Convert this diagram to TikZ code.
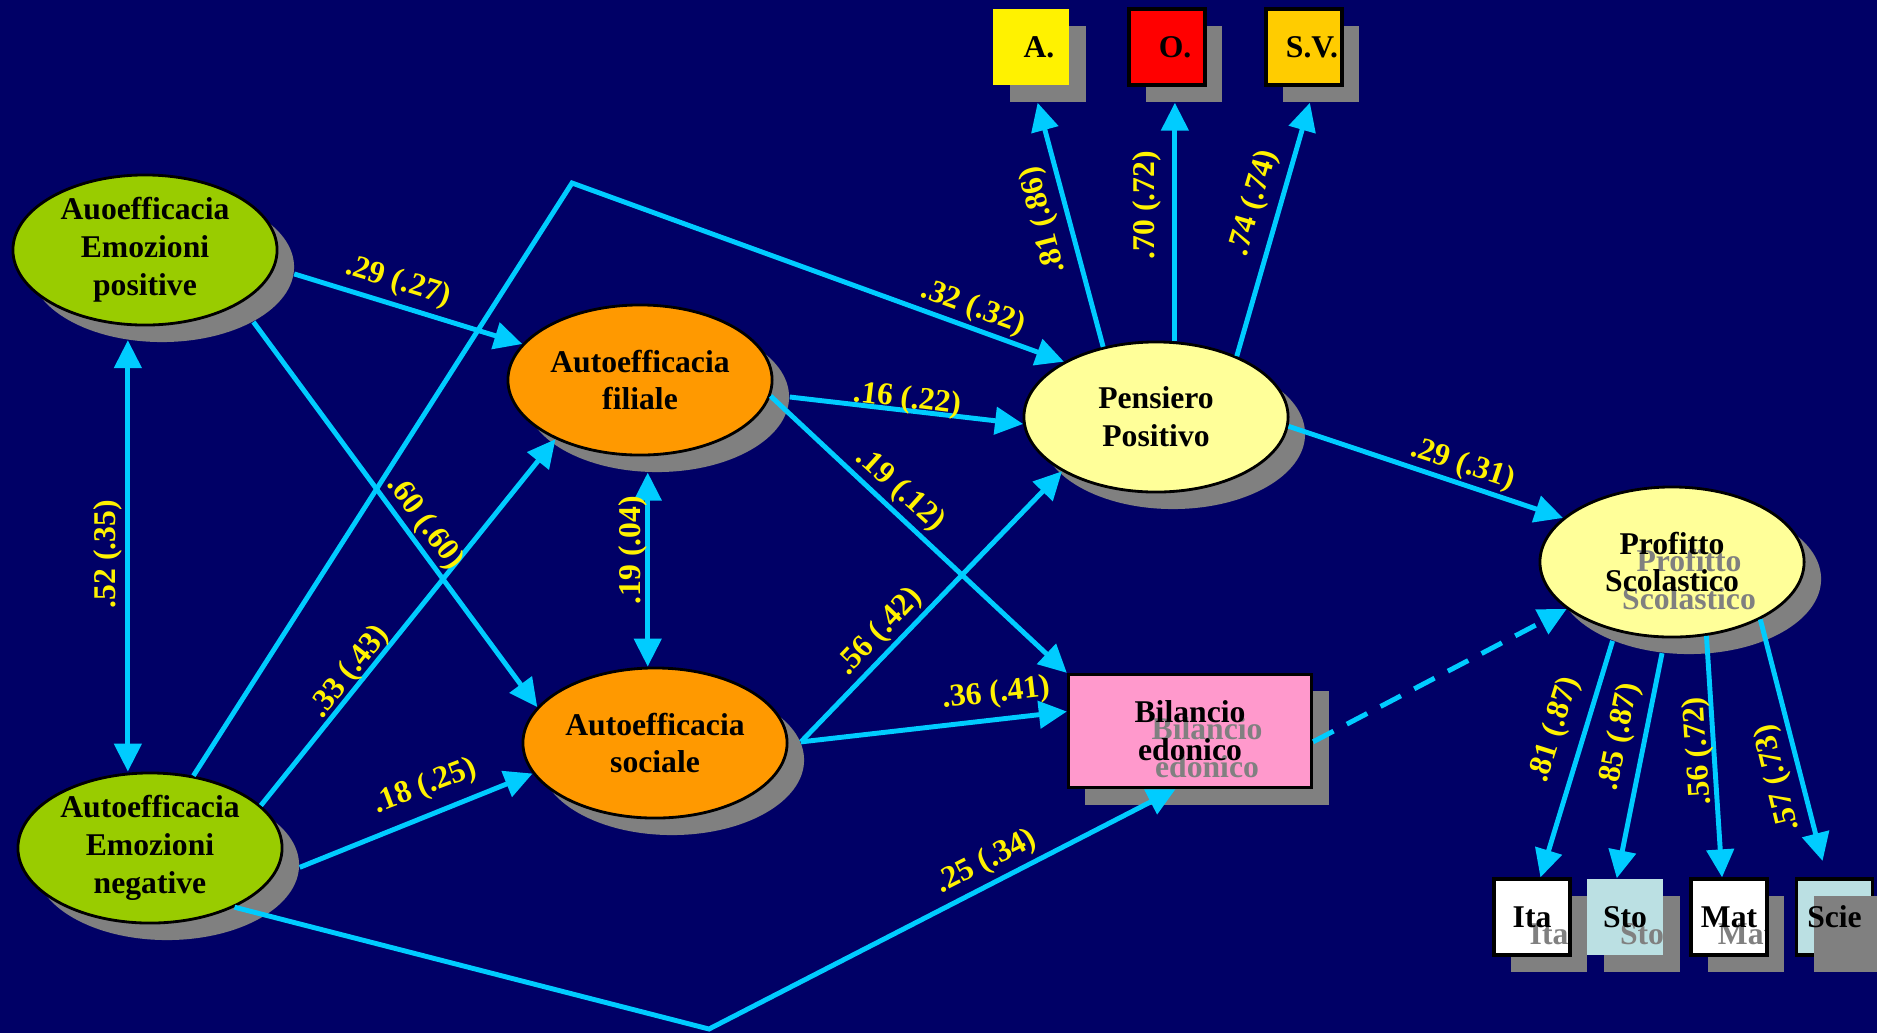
\documentclass[tikz,border=0pt]{standalone}
\usepackage{fontspec}
\setmainfont{Liberation Serif}
\usetikzlibrary{arrows.meta}
\usetikzlibrary{shapes.geometric}
\usetikzlibrary{calc}

\definecolor{navy}{RGB}{0,0,102}
\definecolor{lime}{RGB}{153,204,0}
\definecolor{orangeae}{RGB}{255,153,0}
\definecolor{paleyel}{RGB}{255,255,153}
\definecolor{pinkbe}{RGB}{255,153,204}
\definecolor{goldsv}{RGB}{255,204,0}
\definecolor{paleblue}{RGB}{187,224,227}
\definecolor{shade}{RGB}{128,128,128}
\definecolor{cyanarr}{RGB}{0,204,255}

\newcommand{\semfont}{\fontsize{9}{10.8}\selectfont\bfseries}

\tikzset{
  lat/.style={ellipse, draw=black, line width=0.8pt, minimum width=2.64cm, minimum height=1.5cm, inner sep=0pt, align=center, font=\semfont},
  latsh/.style={ellipse, fill=shade, minimum width=2.64cm, minimum height=1.5cm, inner sep=0pt},
  obs/.style={rectangle, minimum size=0.76cm, inner sep=0pt, font=\semfont},
  obssh/.style={rectangle, fill=shade, minimum size=0.76cm, inner sep=0pt},
  boxed/.style={draw=black, line width=0.9pt},
  ghost/.style={path picture={\node[text=shade, font=\semfont, align=center, inner sep=0pt] at ([shift={(0.17cm,-0.17cm)}]path picture bounding box.center) {#1};}},
  arr/.style={draw=cyanarr, line width=1.4pt, -{Triangle[length=0.28cm,width=0.27cm]}},
  dbl/.style={draw=cyanarr, line width=1.4pt, {Triangle[length=0.28cm,width=0.27cm]}-{Triangle[length=0.28cm,width=0.27cm]}},
  coef/.style={text=yellow, font=\semfont, inner sep=0pt}
}

\begin{document}
\begin{tikzpicture}[x=0.01cm, y=-0.01cm]
\useasboundingbox (0,0) rectangle (1877,1033);
\fill[navy] (0,0) rectangle (1877,1033);

\coordinate (bendtop) at (572,183);
\coordinate (bendbot) at (709,1029);

\node[latsh] (aepsh) at (162,267) {};
\node[latsh] (aensh) at (167,865) {};
\node[latsh] (afsh) at (657,397) {};
\node[latsh] (assh) at (672,760) {};
\node[latsh] (ppsh) at (1173,434) {};
\node[latsh] (pssh) at (1689,579) {};
\node[rectangle, fill=shade, minimum width=2.43cm, minimum height=1.13cm] (besh) at (1207,748) {};
\node[obssh] (ash) at (1048,64) {};
\node[obssh] (osh) at (1184,64) {};
\node[obssh] (svsh) at (1321,64) {};
\node[obssh] (itash) at (1549,934) {};
\node[obssh] (stosh) at (1642,934) {};
\node[obssh] (matsh) at (1746,934) {};

\node[lat, fill=lime] (aep) at (145,250) {Auoefficacia\\Emozioni\\positive};
\node[lat, fill=lime] (aen) at (150,848) {Autoefficacia\\Emozioni\\negative};
\node[lat, fill=orangeae] (af) at (640,380) {Autoefficacia\\filiale};
\node[lat, fill=orangeae] (as) at (655,743) {Autoefficacia\\sociale};
\node[lat, fill=paleyel] (pp) at (1156,417) {Pensiero\\Positivo};
\node[lat, fill=paleyel, ghost={Profitto\\Scolastico}] (ps) at (1672,562) {Profitto\\Scolastico};
\node[rectangle, boxed, fill=pinkbe, minimum width=2.43cm, minimum height=1.13cm, inner sep=0pt, align=center, font=\semfont, ghost={Bilancio\\edonico}] (be) at (1190,731) {Bilancio\\edonico};

\node[obs, fill=yellow] (a) at (1031,47) {\hspace*{0.16cm}A.};
\node[obs, boxed, fill=red] (o) at (1167,47) {\hspace*{0.16cm}O.};
\node[obs, boxed, fill=goldsv] (sv) at (1304,47) {\hspace*{0.16cm}S.V.};

\node[obs, boxed, fill=white, ghost=Ita] (ita) at (1532,917) {Ita};
\node[obs, fill=paleblue, ghost=Sto] (sto) at (1625,917) {Sto};
\node[obs, boxed, fill=white, ghost=Mat] (mat) at (1729,917) {Mat};
\node[obs, boxed, fill=paleblue] (scie) at (1834.5,917) {};
\node[obssh] (sciesh) at (1851.5,934) {};
\node[obs] (scietxt) at (scie) {Scie};

\draw[arr] (aepsh.-3) -- (af.163);
\draw[arr] (aepsh.-31) -- (as.163);
\draw[dbl] (aepsh.245) -- (aepsh.245 |- aen.north);
\draw[arr] (aen.59) -- (bendtop) -- (pp.149);
\draw[arr] (aen.21) -- (af.215);
\draw[arr] (aensh.-1) -- (as.194);
\draw[arr] (aen.-35) -- (bendbot) -- (be.-104);
\draw[dbl] (afsh.263) -- (afsh.263 |- as.north);
\draw[arr] (afsh.0) -- (pp.183);
\draw[arr] (af.-7) -- (be.north west);
\draw[arr] (assh.8) -- (pp.210);
\draw[arr] (assh.8) -- (be.171);
\draw[arr] (pp.127) -- (ash.-105);
\draw[arr] (pp.76) -- (pp.76 |- osh.south);
\draw[arr] (pp.37) -- (svsh.-106);
\draw[arr] (pp.-4) -- (ps.158);
\draw[arr, dash pattern=on 0.23cm off 0.15cm] (be.-5) -- (ps.204);
\draw[arr] (pssh.219) -- (ita.78);
\draw[arr] (pssh.250) -- (sto.102);
\draw[arr] (ps.-65) -- (mat.100);
\draw[arr, shorten >=0.17cm] (ps.-33) -- (scie.101);

\node[coef, rotate=-17] (c1) at (398,282) {.29 (.27)};
\node[coef, rotate=-53.5] (c2) at (425,523) {.60 (.60)};
\node[coef, rotate=90] (c3) at (108,554) {.52 (.35)};
\node[coef, rotate=-20] (c4) at (973,308) {.32 (.32)};
\node[coef, rotate=51.7] (c5) at (350,672) {.33 (.43)};
\node[coef, rotate=20.8] (c6) at (425,787) {.18 (.25)};
\node[coef, rotate=27] (c7) at (986,862) {.25 (.34)};
\node[coef, rotate=90] (c8) at (633,550) {.19 (.04)};
\node[coef, rotate=-6.9] (c9) at (907,400) {.16 (.22)};
\node[coef, rotate=-42] (c10) at (900,490) {.19 (.12)};
\node[coef, rotate=46.4] (c11) at (880,632) {.56 (.42)};
\node[coef, rotate=6.6] (c12) at (996,694) {.36 (.41)};
\node[coef, rotate=104.5] (c13) at (1044,220) {.81 (.86)};
\node[coef, rotate=90] (c14) at (1147,205) {.70 (.72)};
\node[coef, rotate=73.6] (c15) at (1254,203) {.74 (.74)};
\node[coef, rotate=-18.3] (c16) at (1463,465) {.29 (.31)};
\node[coef, rotate=72.6] (c17) at (1555,730) {.81 (.87)};
\node[coef, rotate=78.7] (c18) at (1620,737) {.85 (.87)};
\node[coef, rotate=93.6] (c19) at (1699,751) {.56 (.72)};
\node[coef, rotate=103.6] (c20) at (1778,778) {.57 (.73)};
\end{tikzpicture}
\end{document}
